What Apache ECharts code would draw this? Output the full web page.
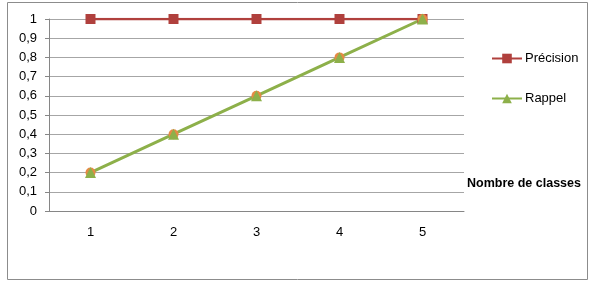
<!DOCTYPE html>
<html><head><meta charset="utf-8">
<script src="https://cdn.jsdelivr.net/npm/echarts@6/dist/echarts.min.js"></script>
<style>html,body{margin:0;padding:0;background:#fff}#c{width:593px;height:285px}</style>
</head><body><div id="c"></div>
<script>
const categories = ['1','2','3','4','5'];
const precision = [1,1,1,1,1];
const rappel = [0.2,0.4,0.6,0.8,1];
const hidden = [0.2,0.4,0.6,0.8,1];
const xAxisTitle = 'Nombre de classes';
const font = '"Liberation Sans", Arial, sans-serif';
const chart = echarts.init(document.getElementById('c'));
chart.setOption({
  animation:false,
  graphic:[{type:'rect',shape:{x:7.5,y:2.5,width:580,height:277},style:{fill:'none',stroke:'#8c8c8c',lineWidth:1}},
    {type:'text',left:467,top:177,style:{text:xAxisTitle,font:'bold 12.5px '+font,fill:'#000'}}],
  grid:{left:49,right:129,top:19,bottom:74},
  legend:{orient:'vertical',left:486,top:47,itemGap:27,itemWidth:30,itemHeight:12,
    textStyle:{fontFamily:font,fontSize:13,color:'#000',padding:[0,0,0,-2]},
    data:['Précision','Rappel']},
  xAxis:{type:'category',data:categories,boundaryGap:true,
    axisLine:{lineStyle:{color:'#868686'}},axisTick:{show:false},
    axisLabel:{fontFamily:font,fontSize:13,color:'#000',margin:15}},
  yAxis:{type:'value',min:0,max:1,interval:0.1,
    axisLine:{show:true,lineStyle:{color:'#868686'}},
    axisTick:{show:true,length:4,lineStyle:{color:'#868686'}},
    splitLine:{lineStyle:{color:'#a6a6a6'}},
    axisLabel:{fontFamily:font,fontSize:13,color:'#000',margin:12,
      formatter:v=>String(Math.round(v*10)/10).replace('.',',')}},
  series:[
    {name:'Précision',type:'line',data:precision,symbol:'rect',symbolSize:10,
      lineStyle:{color:'#B0403D',width:2.5},itemStyle:{color:'#B0403D'}},
    {name:'hidden',type:'line',data:hidden,symbol:'circle',symbolSize:10,
      lineStyle:{width:0,opacity:0},itemStyle:{color:'#E58A45'}},
    {name:'Rappel',type:'line',data:rappel,symbol:'triangle',symbolSize:11,
      lineStyle:{color:'#8DB04A',width:3},itemStyle:{color:'#8DB04A'}}
  ]
});
</script></body></html>
